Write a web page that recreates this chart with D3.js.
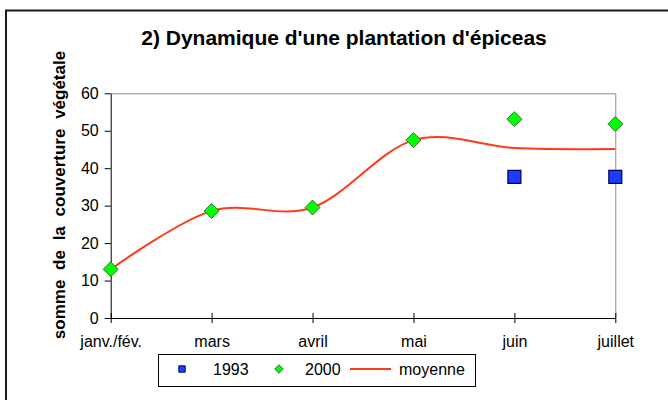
<!DOCTYPE html>
<html>
<head>
<meta charset="utf-8">
<script src="https://cdn.jsdelivr.net/npm/d3@7"></script>
<style>
  body { margin: 0; background: #fff; }
  svg { display: block; font-family: Arial, "Liberation Sans", sans-serif; }
</style>
</head>
<body>
<div id="chart"></div>
<script>
"use strict";

// Data
var months = ["janv./fév.", "mars", "avril", "mai", "juin", "juillet"];
var serie1993 = [null, null, null, null, 37.7, 37.7];
var serie2000 = [13, 28.6, 29.5, 47.5, 53.1, 51.8];
var moyenne = [13, 28.6, 29.5, 47.5, 45.4, 45.1];
var yTicks = [0, 10, 20, 30, 40, 50, 60];

var W = 668, H = 400;
var svg = d3.select("#chart").append("svg")
  .attr("width", W).attr("height", H);

// outer frame (runs off the right and bottom edges)
svg.append("rect")
  .attr("x", 6).attr("y", 10.5)
  .attr("width", 720).attr("height", 440)
  .attr("fill", "none").attr("stroke", "#1a1a1a").attr("stroke-width", 2);

var plot = { left: 110.7, right: 615.3, top: 93.3, bottom: 318 };

var x = d3.scalePoint().domain(months).range([plot.left, plot.right]);
var y = d3.scaleLinear().domain([0, 60]).range([plot.bottom, plot.top]);

// plot area border (top and right in grey)
svg.append("path")
  .attr("d", "M" + plot.left + "," + (plot.top + 0.5) + "H" + (plot.right + 0.5) + "V" + plot.bottom)
  .attr("fill", "none").attr("stroke", "#8c8c8c").attr("stroke-width", 1);

// title
svg.append("text")
  .attr("x", 344).attr("y", 45)
  .attr("text-anchor", "middle")
  .style("font-size", "21px").style("font-weight", "bold")
  .text("2) Dynamique d'une plantation d'épiceas");

// y axis title
svg.append("text")
  .attr("transform", "translate(65,195) rotate(-90)")
  .attr("text-anchor", "middle")
  .style("font-size", "17px").style("font-weight", "bold")
  .style("word-spacing", "5px")
  .text("somme de la couverture végétale");

// y axis
var yAxis = svg.append("g")
  .attr("transform", "translate(" + plot.left + ",0)")
  .call(d3.axisLeft(y).tickValues(yTicks).tickSize(6).tickPadding(6).tickSizeOuter(0));
yAxis.select(".domain").attr("stroke", "#000");
yAxis.selectAll("text").style("font-size", "16px").attr("fill", "#000");

// x axis, ticks crossing the line
var xAxis = svg.append("g")
  .attr("transform", "translate(0," + plot.bottom + ")")
  .call(d3.axisBottom(x).tickSize(5).tickPadding(13).tickSizeOuter(0));
xAxis.select(".domain").attr("stroke", "#000");
xAxis.selectAll(".tick line").attr("y1", -5);
xAxis.selectAll("text").style("font-size", "16px").attr("fill", "#000");

// moyenne line (smoothed)
var pts = months.map(function (m, i) { return [x(m), y(moyenne[i])]; });
svg.append("path")
  .attr("d", d3.line().curve(d3.curveCardinal.tension(0))(pts))
  .attr("fill", "none")
  .attr("stroke", "#ff3a1a")
  .attr("stroke-width", 2);

// 2000 diamonds
var diamond = d3.symbol().type(d3.symbolSquare).size(112);
svg.selectAll(".d2000")
  .data(serie2000.map(function (v, i) { return { m: months[i], v: v }; })
    .filter(function (d) { return d.v != null; }))
  .enter().append("path")
  .attr("class", "d2000")
  .attr("d", diamond)
  .attr("transform", function (d) {
    return "translate(" + x(d.m) + "," + y(d.v) + ") rotate(45)";
  })
  .attr("fill", "#00ff00")
  .attr("stroke", "#2c5a2c")
  .attr("stroke-width", 0.8);

// 1993 squares
var square = d3.symbol().type(d3.symbolSquare).size(169);
svg.selectAll(".s1993")
  .data(serie1993.map(function (v, i) { return { m: months[i], v: v }; })
    .filter(function (d) { return d.v != null; }))
  .enter().append("path")
  .attr("class", "s1993")
  .attr("d", square)
  .attr("transform", function (d) {
    return "translate(" + x(d.m) + "," + y(d.v) + ")";
  })
  .attr("fill", "#1a3cff")
  .attr("stroke", "#000066")
  .attr("stroke-width", 1.2);

// legend
var lg = svg.append("g");
lg.append("rect")
  .attr("x", 158.5).attr("y", 354.5)
  .attr("width", 317).attr("height", 32)
  .attr("fill", "#fff").attr("stroke", "#000").attr("stroke-width", 1);
lg.append("path")
  .attr("d", d3.symbol().type(d3.symbolSquare).size(40))
  .attr("transform", "translate(182,369)")
  .attr("fill", "#1a3cff").attr("stroke", "#000066").attr("stroke-width", 1);
lg.append("text").attr("x", 213).attr("y", 375)
  .style("font-size", "16px").text("1993");
lg.append("path")
  .attr("d", d3.symbol().type(d3.symbolSquare).size(36))
  .attr("transform", "translate(279,369) rotate(45)")
  .attr("fill", "#00ff00").attr("stroke", "#2c5a2c").attr("stroke-width", 0.8);
lg.append("text").attr("x", 305).attr("y", 375)
  .style("font-size", "16px").text("2000");
lg.append("line")
  .attr("x1", 350).attr("x2", 391).attr("y1", 369).attr("y2", 369)
  .attr("stroke", "#ff3a1a").attr("stroke-width", 2);
lg.append("text").attr("x", 399).attr("y", 375)
  .style("font-size", "16px").text("moyenne");
</script>
</body>
</html>
